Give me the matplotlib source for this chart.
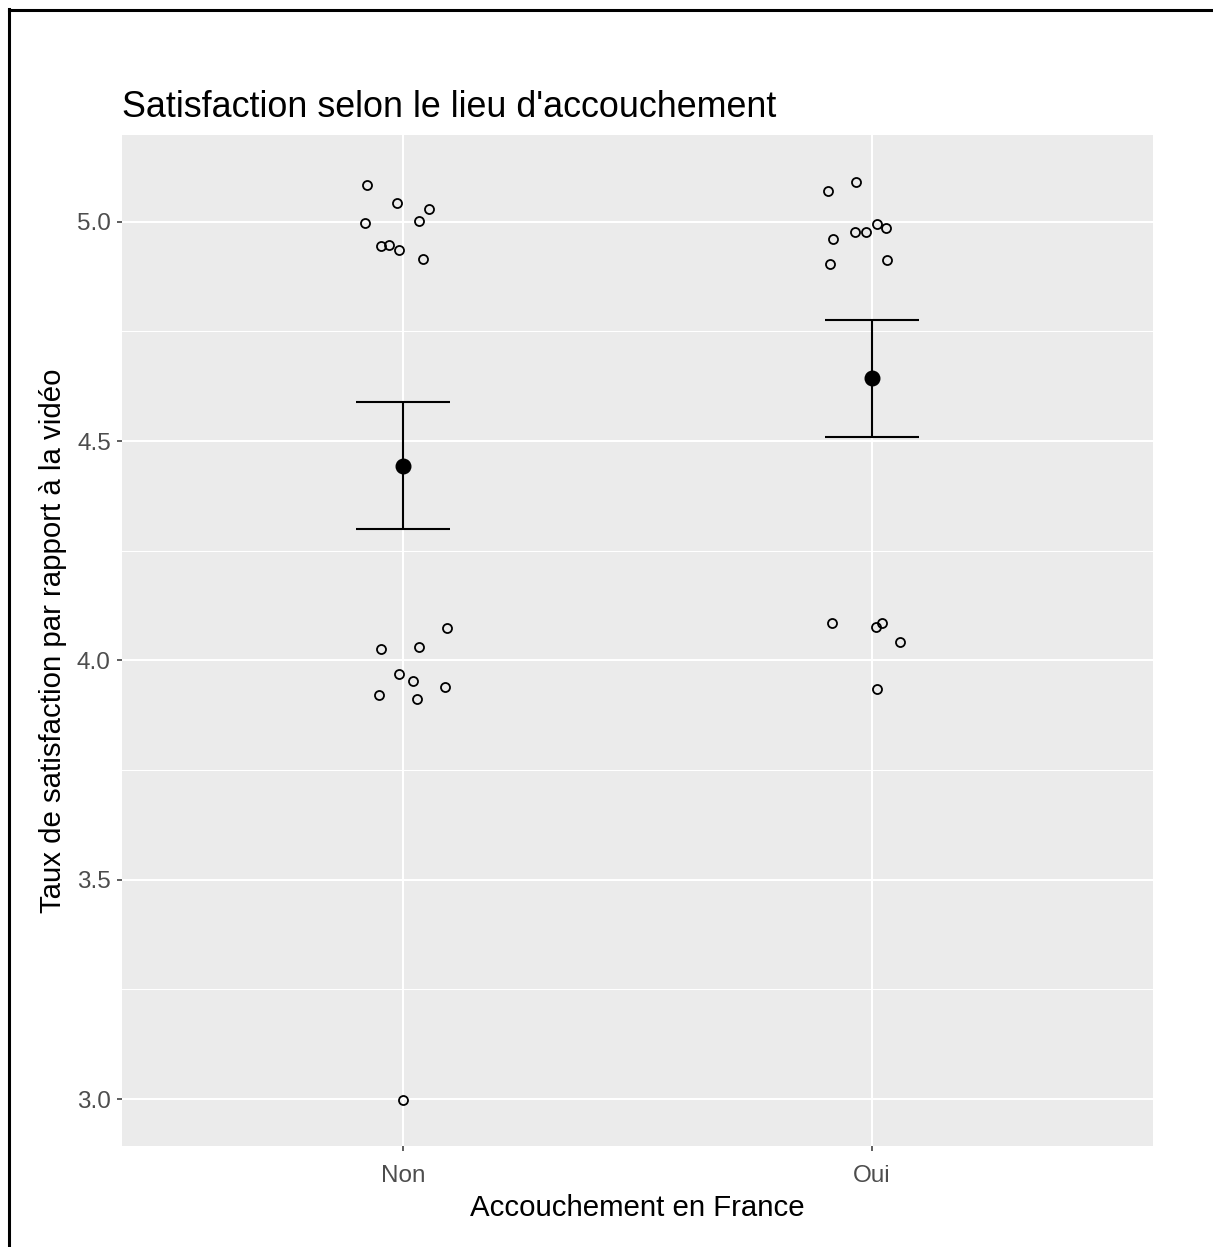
import matplotlib.pyplot as plt
import numpy as np
from matplotlib.lines import Line2D
from matplotlib.ticker import MultipleLocator

plt.rcParams.update({
    "font.family": ["Liberation Sans", "DejaVu Sans"],
})

# --- Data ---
categories = ["Non", "Oui"]

# horizontal jitter offsets around each category, and jittered scores
non_jitter = [-0.077, -0.013, 0.055, -0.081, 0.034, -0.047, -0.030, -0.009, 0.043,
              0.094, -0.047, 0.034, -0.009, 0.021, 0.090, -0.051, 0.030, 0.000]
non_score = [5.085, 5.044, 5.030, 4.998, 5.003, 4.944, 4.948, 4.935, 4.916,
             4.073, 4.027, 4.031, 3.968, 3.954, 3.940, 3.922, 3.913, 2.998]

oui_jitter = [-0.094, -0.034, -0.082, -0.035, -0.013, 0.012, 0.030, -0.090, 0.033,
              -0.086, 0.008, 0.022, 0.060, 0.012]
oui_score = [5.071, 5.090, 4.962, 4.976, 4.976, 4.995, 4.985, 4.903, 4.912,
             4.086, 4.077, 4.086, 4.041, 3.936]

means = [4.444, 4.643]
se = [0.145, 0.133]

y_ticks = [3.0, 3.5, 4.0, 4.5, 5.0]

# --- Figure ---
W, H = 1213, 1247
fig = plt.figure(figsize=(W / 100, H / 100), dpi=100)
ax = fig.add_axes([122 / W, 1 - 1146 / H, (1153 - 122) / W, (1146 - 135) / H])

ax.set_facecolor("#EBEBEB")
for s in ax.spines.values():
    s.set_visible(False)

ax.set_xlim(0.4, 2.6)
ax.set_ylim(2.893, 5.198)
ax.set_xticks([1, 2])
ax.set_xticklabels(categories)
ax.set_yticks(y_ticks)
ax.set_yticklabels([f"{t:.1f}" for t in y_ticks])
ax.yaxis.set_minor_locator(MultipleLocator(0.25))

ax.set_axisbelow(True)
ax.grid(which="major", color="white", linewidth=1.5)
ax.grid(which="minor", axis="y", color="white", linewidth=0.75)
ax.tick_params(which="major", length=3.6, width=1.1, color="#333333",
               labelsize=17.5, labelcolor="#4D4D4D")
ax.tick_params(axis="x", pad=10)
ax.tick_params(axis="y", pad=4.5)
ax.tick_params(which="minor", length=0)

# jittered points
xs_non = [1 + j for j in non_jitter]
xs_oui = [2 + j for j in oui_jitter]
ax.plot(xs_non, non_score, "o", ms=6.5, mfc="none", mec="black", mew=1.3, zorder=3)
ax.plot(xs_oui, oui_score, "o", ms=6.5, mfc="none", mec="black", mew=1.3, zorder=3)

# mean +/- se
pos = np.arange(1, len(categories) + 1)
lo = [m - e for m, e in zip(means, se)]
hi = [m + e for m, e in zip(means, se)]
ax.vlines(pos, lo, hi, color="black", linewidth=1.5, zorder=4)
ax.hlines(lo, pos - 0.1, pos + 0.1, color="black", linewidth=1.5, zorder=4)
ax.hlines(hi, pos - 0.1, pos + 0.1, color="black", linewidth=1.5, zorder=4)
ax.plot(pos, means, "o", ms=10.5, color="black", zorder=5)

ax.set_xlabel("Accouchement en France", fontsize=21.2, color="black", labelpad=5)
ax.set_ylabel("Taux de satisfaction par rapport à la vidéo", fontsize=21.2,
              color="black", labelpad=7)

fig.text(122 / W, 1 - 117 / H, "Satisfaction selon le lieu d'accouchement",
         fontsize=25.8, color="black", ha="left", va="baseline")

# screenshot border (left and top)
fig.add_artist(Line2D([9 / W, 9 / W], [0, 1 - 9 / H], transform=fig.transFigure,
                      color="black", linewidth=2.2))
fig.add_artist(Line2D([9 / W, 1], [1 - 10 / H, 1 - 10 / H], transform=fig.transFigure,
                      color="black", linewidth=2.2))

fig.savefig("out.png", dpi=100)
